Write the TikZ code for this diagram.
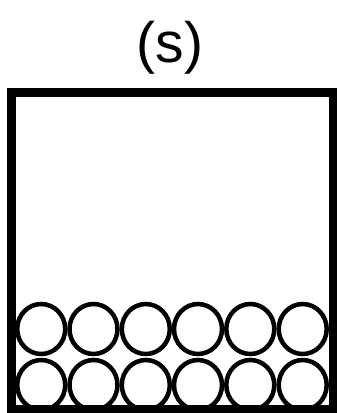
\documentclass[tikz,border=0pt]{standalone}
\usepackage{fontspec}
\setmainfont{Liberation Sans}
\usetikzlibrary{shapes.geometric}
\begin{document}
\begin{tikzpicture}[x=1pt,y=-1pt,
  ball/.style={ellipse,draw=black,line width=4.5pt,minimum width=48pt,minimum height=50pt,inner sep=0pt,fill=white},
  container/.style={draw=black,line width=9pt},
  titletext/.style={font=\fontsize{57}{66}\selectfont,inner sep=0pt}]
\useasboundingbox (0,0) rectangle (337,413);
\fill[white] (0,0) rectangle (337,413);
\node[titletext] (title) at (170,47.5) {(s)};
\foreach \i/\x in {1/41.2,2/93.5,3/145.8,4/198,5/250.3,6/302.7}{
  \node[ball] (b\i) at (\x,385) {};
  \node[ball] (t\i) at (\x,329) {};
}
\draw[container] (11,92) rectangle (333,409.5);
\end{tikzpicture}
\end{document}
